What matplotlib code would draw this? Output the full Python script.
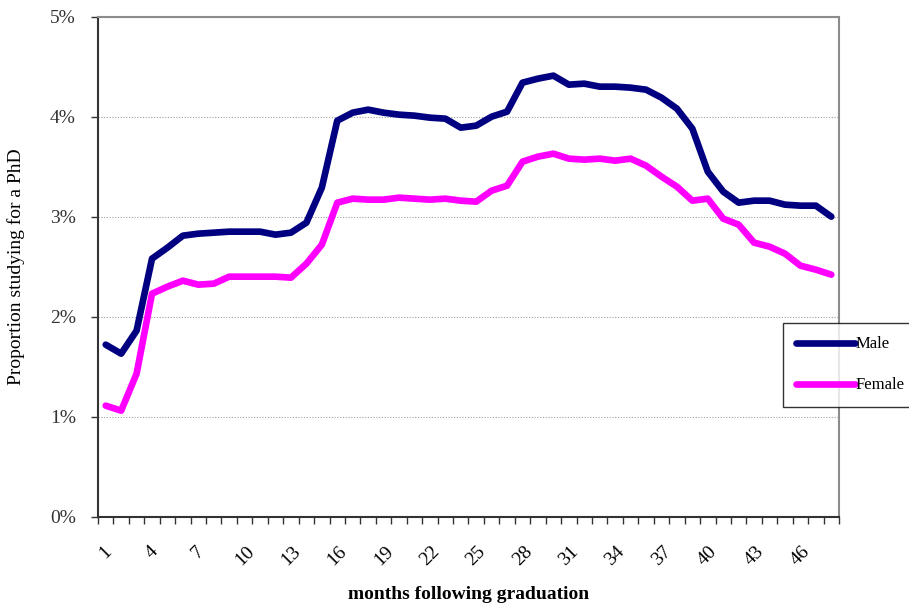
import numpy as np
import matplotlib
matplotlib.use('Agg')
import matplotlib.pyplot as plt
from matplotlib.ticker import FuncFormatter, MultipleLocator

# 数据
months = np.arange(1, 49)
male = [1.72, 1.63, 1.86, 2.58, 2.69, 2.81, 2.83, 2.84, 2.85, 2.85,
        2.85, 2.82, 2.84, 2.94, 3.29, 3.96, 4.04, 4.07, 4.04, 4.02,
        4.01, 3.99, 3.98, 3.89, 3.91, 4.00, 4.05, 4.34, 4.38, 4.41,
        4.32, 4.33, 4.30, 4.30, 4.29, 4.27, 4.19, 4.08, 3.88, 3.45,
        3.25, 3.14, 3.16, 3.16, 3.12, 3.11, 3.11, 3.00]
female = [1.11, 1.06, 1.43, 2.23, 2.30, 2.36, 2.32, 2.33, 2.40, 2.40,
          2.40, 2.40, 2.39, 2.53, 2.72, 3.14, 3.18, 3.17, 3.17, 3.19,
          3.18, 3.17, 3.18, 3.16, 3.15, 3.26, 3.31, 3.55, 3.60, 3.63,
          3.58, 3.57, 3.58, 3.56, 3.58, 3.51, 3.40, 3.30, 3.16, 3.18,
          2.98, 2.92, 2.74, 2.70, 2.63, 2.51, 2.47, 2.42]
tick_months = list(range(1, 47, 3))

plt.rcParams.update({
    "font.family": ["Liberation Serif", "DejaVu Serif"],
    "font.size": 12,
})

fig = plt.figure(figsize=(9.09, 6.10), dpi=100)
ax = fig.add_axes([0.1078, 0.153, 0.8152, 0.8197])

ax.plot(months, male, color='#000080', linewidth=4.8, label='Male',
        solid_capstyle='round', solid_joinstyle='round')
ax.plot(months, female, color='#FF00FF', linewidth=4.8, label='Female',
        solid_capstyle='round', solid_joinstyle='round')

ax.set_xlim(0.5, 48.5)
ax.set_ylim(0, 5)

# 网格线
for v in range(1, 6):
    ax.axhline(v, color='#a0a0a0', linestyle=(0, (1, 1.5)), linewidth=0.8, zorder=0)

ax.yaxis.set_major_locator(MultipleLocator(1))
ax.yaxis.set_major_formatter(FuncFormatter(lambda v, p: f"{v:.0f}%"))
ax.tick_params(axis='y', direction='out', length=5, width=1, labelsize=14,
               pad=11, color='#333333', labelcolor='#333333')

ax.set_xticks(tick_months)
ax.set_xticklabels([str(m) for m in tick_months], rotation=45, ha='center',
                   fontsize=14)
ax.set_xticks(np.arange(0.5, 49, 1), minor=True)
ax.tick_params(axis='x', which='major', length=0, pad=19)
ax.tick_params(axis='x', which='minor', direction='out', length=5, width=1, color='#333333')

for s in ['top', 'right']:
    ax.spines[s].set_color('#8c8c8c')
    ax.spines[s].set_linewidth(1.5)
for s in ['left', 'bottom']:
    ax.spines[s].set_color('#333333')
    ax.spines[s].set_linewidth(1.5)

ax.set_ylabel("Proportion studying for a PhD", fontsize=14, labelpad=18)
ax.set_xlabel("months following graduation", fontsize=14, fontweight='bold', labelpad=12)

leg = fig.legend(loc='upper left', bbox_to_anchor=(783 / 909, 1 - 323 / 610),
                 frameon=True, fancybox=False, edgecolor='black', fontsize=12,
                 handlelength=3.5, handletextpad=0.05, labelspacing=1.5,
                 borderpad=0.8, borderaxespad=0)
leg.get_frame().set_linewidth(1.0)

fig.savefig('out.png', dpi=100)
